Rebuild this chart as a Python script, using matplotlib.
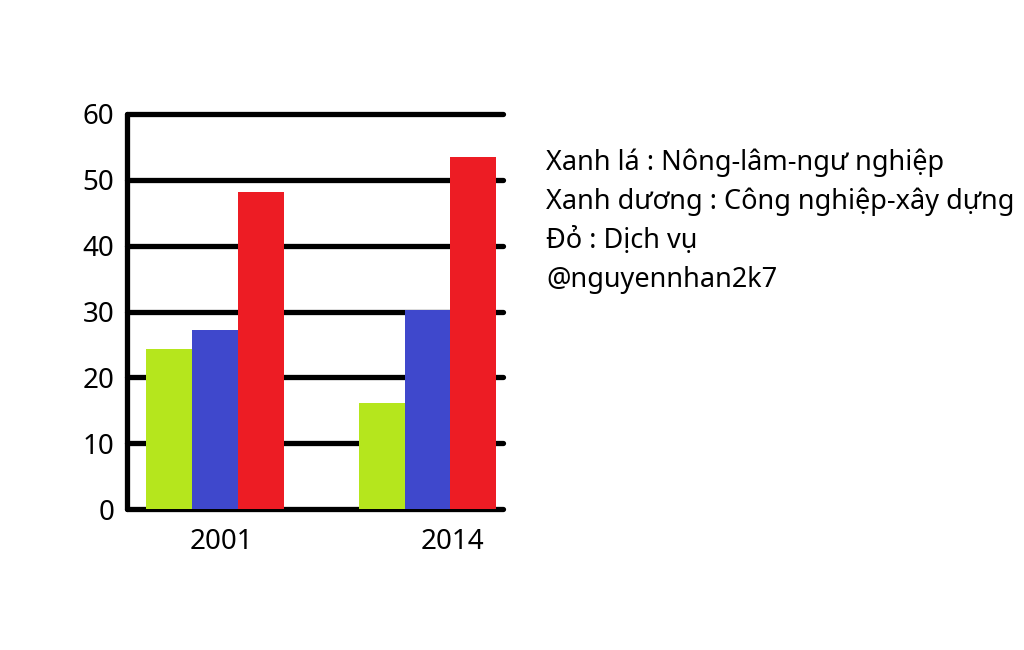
import numpy as np
import matplotlib
matplotlib.use('Agg')
import matplotlib.pyplot as plt

plt.rcParams['font.family'] = ['Noto Sans', 'DejaVu Sans']

# Dữ liệu
years = ['2001', '2014']
nong_lam_ngu = [24.3, 16.1]
cong_nghiep = [27.2, 30.3]
dich_vu = [48.1, 53.4]
y_ticks = [0, 10, 20, 30, 40, 50, 60]
notes = ['Xanh lá : Nông-lâm-ngư nghiệp',
         'Xanh dương : Công nghiệp-xây dựng',
         'Đỏ : Dịch vụ',
         '@nguyennhan2k7']

GREEN = '#B5E61D'
BLUE = '#3F48CC'
RED = '#ED1C24'

fig = plt.figure(figsize=(10.24, 6.5), dpi=100, facecolor='white')
ax = fig.add_axes([127 / 1024, 1 - 509 / 650, (503 - 127) / 1024, (509 - 114) / 650])

x = np.arange(len(years))
w = 0.215
ax.bar(x - w, nong_lam_ngu, width=w, color=GREEN, zorder=3)
ax.bar(x, cong_nghiep, width=w, color=BLUE, zorder=3)
ax.bar(x + w, dich_vu, width=w, color=RED, zorder=3)

# đường lưới dày kiểu vẽ tay
for v in y_ticks:
    ax.axhline(v, color='black', lw=3.8, solid_capstyle='round', zorder=2, clip_on=False)

ax.set_xlim(-0.414, 1.355)
ax.set_ylim(0, 60)
ax.set_yticks(y_ticks)
ax.set_yticklabels([str(v) for v in y_ticks], fontsize=20)
ax.set_xticks([0.03, 1.115])
ax.set_xticklabels(years, fontsize=20)
ax.tick_params(axis='y', length=0, pad=9)
ax.tick_params(axis='x', length=0, pad=14)

for s in ['top', 'right', 'bottom']:
    ax.spines[s].set_visible(False)
ax.spines['left'].set_linewidth(3.8)
ax.spines['left'].set_capstyle('round')
ax.spines['left'].set_zorder(4)

for i, t in enumerate(notes):
    fig.text(546 / 1024, 1 - (163 + i * 39) / 650, t, fontsize=19.5,
             ha='left', va='center', color='black')

fig.savefig('out.png', dpi=100, facecolor='white')
